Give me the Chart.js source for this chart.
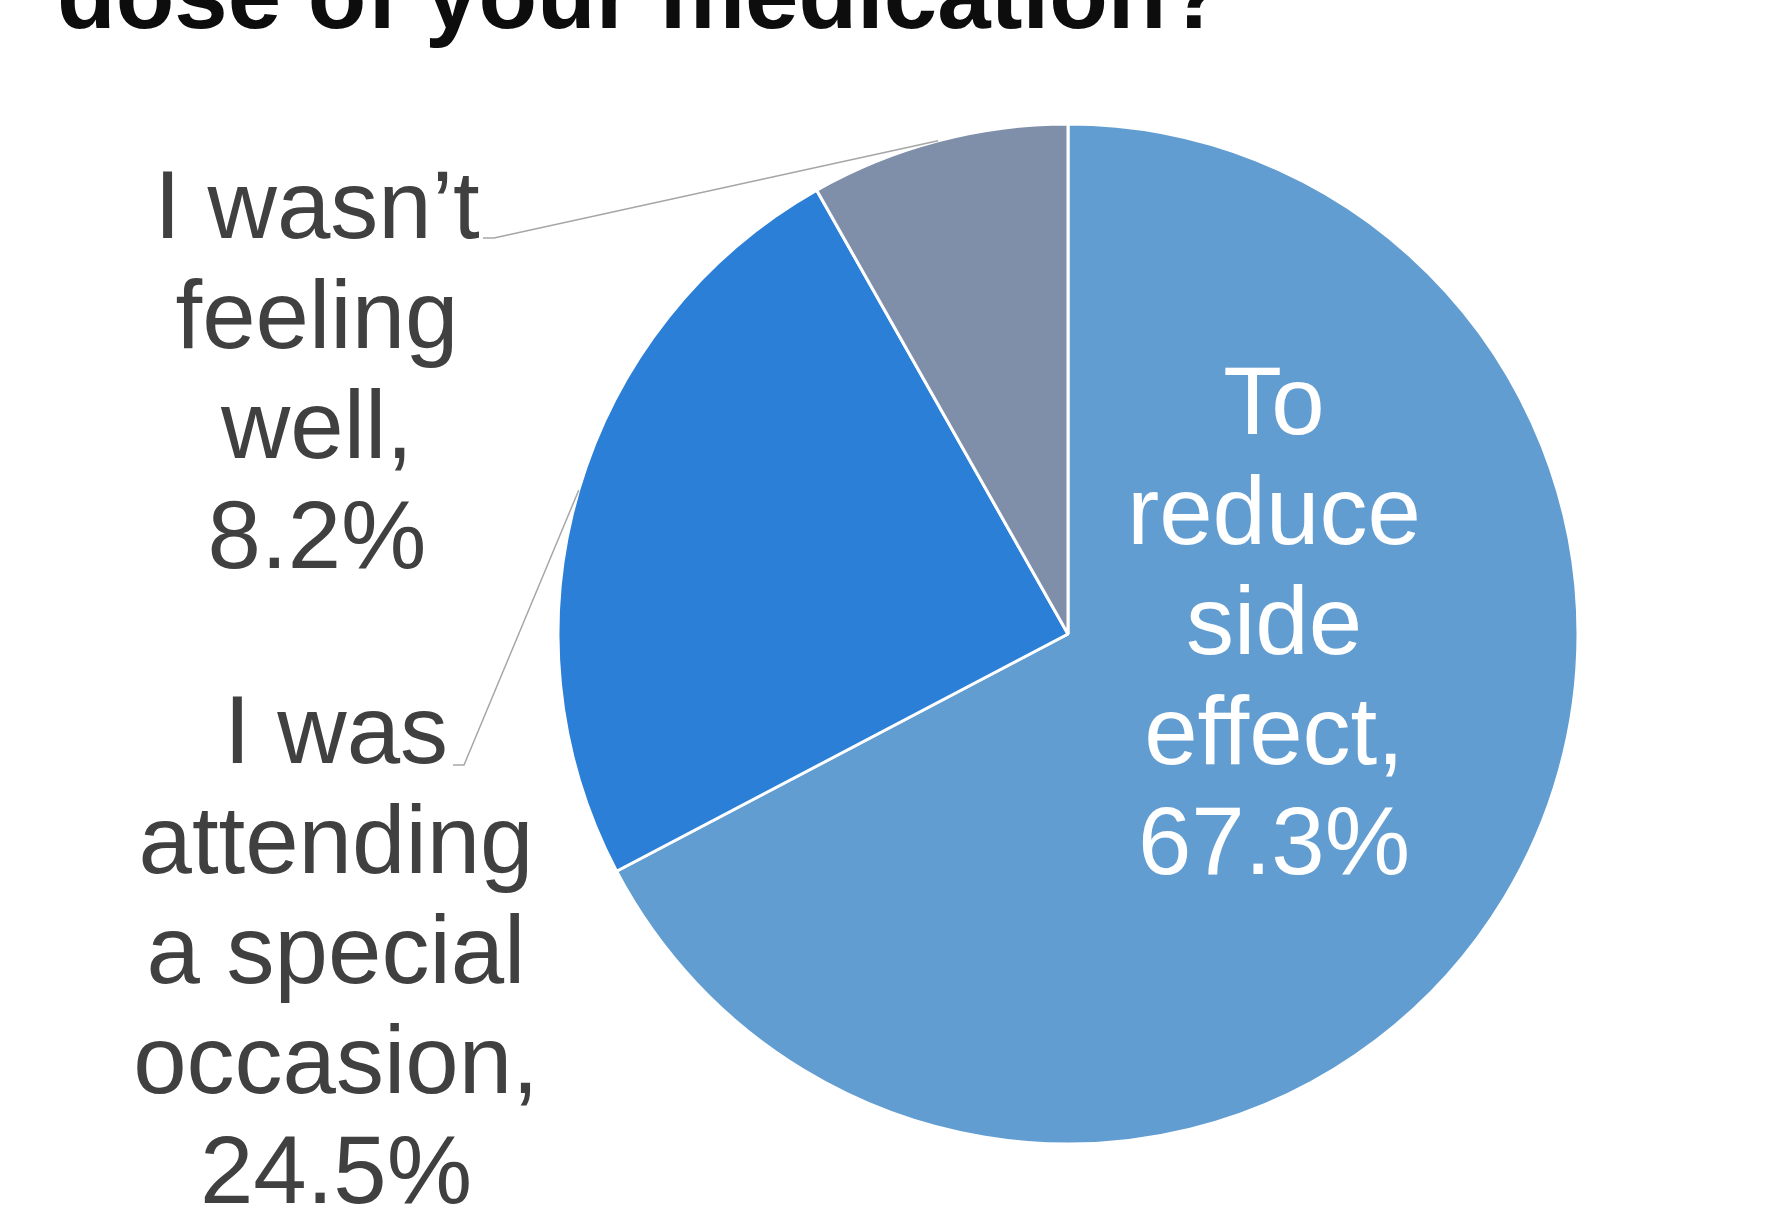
<!DOCTYPE html>
<html>
<head>
<meta charset="utf-8">
<title>Medication dose pie</title>
<script src="https://cdn.jsdelivr.net/npm/chart.js@4.4.0/dist/chart.umd.min.js"></script>
<style>
    html, body { margin: 0; padding: 0; background: #fff; overflow: hidden; }
    canvas { display: block; }
</style>
</head>
<body>
<canvas id="pieChart" width="1775" height="1217"></canvas>
<script>
// chart data
const titleText = 'dose of your medication?';
const categories = ['To reduce side effect', 'I was attending a special occasion', 'I wasn\u2019t feeling well'];
const shares = [67.3, 24.5, 8.2];
const labelLines = [
    ['To', 'reduce', 'side', 'effect,'],
    ['I was', 'attending', 'a special', 'occasion,'],
    ['I wasn\u2019t', 'feeling', 'well,']
];
const sliceColors = ['#629dd1', '#2b7fd6', '#7f8fa9'];

// where each label block sits (x = centre, y = first baseline)
const labelSpots = [
    { x: 1274, y: 434, color: '#ffffff', leader: null },
    { x: 336, y: 763, color: '#404040', leader: { from: 453, to: 464, dy: 2 } },
    { x: 317, y: 238, color: '#404040', leader: { from: 483, to: 494, dy: 0 } }
];
const lineGap = 110;

const calloutPlugin = {
    id: 'callouts',
    afterDatasetsDraw(chart) {
        const ctx = chart.ctx;
        const arcs = chart.getDatasetMeta(0).data;
        ctx.save();

        arcs.forEach((arc, i) => {
            const spot = labelSpots[i];
            if (!spot.leader) return;
            const p = arc.getProps(['x', 'y', 'startAngle', 'endAngle', 'outerRadius'], true);
            const mid = (p.startAngle + p.endAngle) / 2;
            const ex = p.x + p.outerRadius * Math.cos(mid);
            const ey = p.y + p.outerRadius * Math.sin(mid);
            const ly = spot.y + spot.leader.dy;
            ctx.strokeStyle = '#a6a6a6';
            ctx.lineWidth = 1.5;
            ctx.beginPath();
            ctx.moveTo(spot.leader.from, ly);
            ctx.lineTo(spot.leader.to, ly);
            ctx.lineTo(ex, ey);
            ctx.stroke();
        });

        ctx.font = '96px "Liberation Sans", Arial, sans-serif';
        ctx.textAlign = 'center';
        ctx.textBaseline = 'alphabetic';
        arcs.forEach((arc, i) => {
            const spot = labelSpots[i];
            const lines = labelLines[i].concat(shares[i].toFixed(1) + '%');
            ctx.fillStyle = spot.color;
            lines.forEach((t, k) => ctx.fillText(t, spot.x, spot.y + k * lineGap));
        });

        // title, only its lower part is on the page
        ctx.font = 'bold 96px "Liberation Sans", Arial, sans-serif';
        ctx.textAlign = 'left';
        ctx.fillStyle = '#0d0d0d';
        ctx.fillText(titleText, 57, 28);
        ctx.restore();
    }
};

new Chart(document.getElementById('pieChart'), {
    type: 'pie',
    data: {
        labels: categories,
        datasets: [{
            data: shares,
            backgroundColor: sliceColors,
            borderColor: '#ffffff',
            borderWidth: 3
        }]
    },
    options: {
        responsive: false,
        animation: false,
        radius: 510,
        layout: { padding: { left: 361, right: 0, top: 51, bottom: 0 } },
        plugins: {
            legend: { display: false },
            tooltip: { enabled: false },
            title: { display: false }
        }
    },
    plugins: [calloutPlugin]
});
</script>
</body>
</html>
